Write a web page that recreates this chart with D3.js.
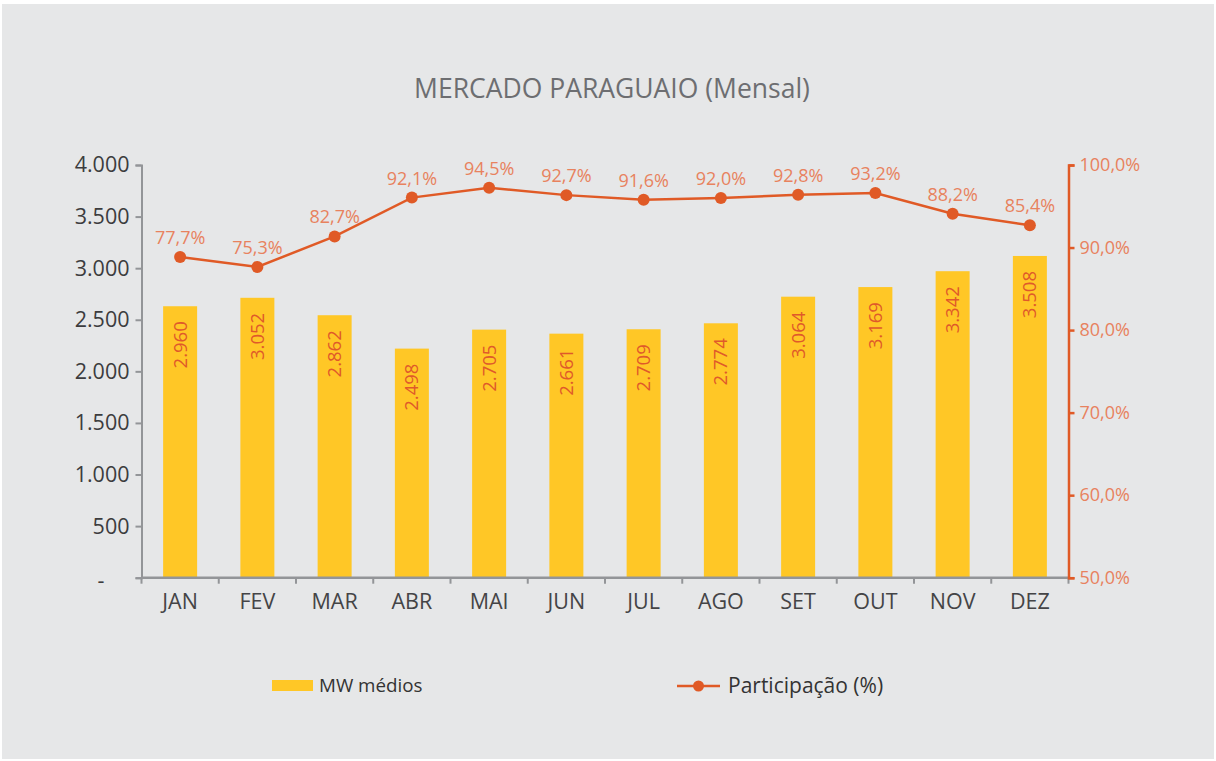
<!DOCTYPE html>
<html>
<head>
<meta charset="utf-8">
<script src="https://cdn.jsdelivr.net/npm/d3@7"></script>
<style>
    body { margin: 0; background: #ffffff; }
    svg { display: block; font-family: "Open Sans", "Noto Sans", sans-serif; }
</style>
</head>
<body>
<svg id="chart" width="1216" height="761"></svg>
<script>
const months = ['JAN', 'FEV', 'MAR', 'ABR', 'MAI', 'JUN', 'JUL', 'AGO', 'SET', 'OUT', 'NOV', 'DEZ'];
const mwMedios = [2960, 3052, 2862, 2498, 2705, 2661, 2709, 2774, 3064, 3169, 3342, 3508];
const participacao = [77.7, 75.3, 82.7, 92.1, 94.5, 92.7, 91.6, 92.0, 92.8, 93.2, 88.2, 85.4];
const leftTicks = [0, 500, 1000, 1500, 2000, 2500, 3000, 3500, 4000];
const rightTicks = [50, 60, 70, 80, 90, 100];

const svg = d3.select('#chart');

// gray panel
svg.append('rect')
    .attr('x', 2).attr('y', 4)
    .attr('width', 1212).attr('height', 755)
    .attr('fill', '#e6e7e8');

svg.append('text')
    .attr('x', 612).attr('y', 98)
    .attr('text-anchor', 'middle')
    .attr('font-size', 26.5)
    .attr('fill', '#6d6e71')
    .text('MERCADO PARAGUAIO (Mensal)');

const x0 = 141.5, x1 = 1068.5, yTop = 165, yBot = 577.7;

const scalex = d3.scaleBand()
    .domain(months)
    .range([x0, x1])
    .paddingInner(0.56)
    .paddingOuter(0.28);

// bars are drawn on a 0-4500 scale, the axis is labelled 0-4000 (as in the original)
const scaleBar = d3.scaleLinear().domain([0, 4500]).range([yBot, yTop]);
const scaleLeft = d3.scaleLinear().domain([0, 4000]).range([yBot, yTop]);
// line is drawn on 0-100, axis labelled 50-100
const scaleLine = d3.scaleLinear().domain([0, 100]).range([yBot, yTop]);
const scaleRight = d3.scaleLinear().domain([50, 100]).range([yBot, yTop]);

const fmtInt = d3.formatLocale({decimal: ',', thousands: '.', grouping: [3], currency: ['', '']}).format(',d');
const fmtPct = d => d.toFixed(1).replace('.', ',') + '%';

// bars
const bars = svg.append('g');
bars.selectAll('rect')
    .data(mwMedios)
    .enter()
    .append('rect')
    .attr('x', (d, i) => scalex(months[i]))
    .attr('y', d => scaleBar(d))
    .attr('width', scalex.bandwidth())
    .attr('height', d => yBot - scaleBar(d))
    .attr('fill', '#ffc726');

bars.selectAll('text')
    .data(mwMedios)
    .enter()
    .append('text')
    .attr('transform', (d, i) => 'translate(' + (scalex(months[i]) + scalex.bandwidth() / 2 + 6.5) + ',' + (scaleBar(d) + 15) + ') rotate(-90)')
    .attr('text-anchor', 'end')
    .attr('font-size', 18.5)
    .attr('fill', '#e0592a')
    .text(d => fmtInt(d));

// left axis
const axL = svg.append('g')
    .attr('transform', 'translate(' + x0 + ',0)')
    .call(d3.axisLeft(scaleLeft).tickValues(leftTicks).tickSize(6).tickPadding(6)
        .tickFormat(d => d === 0 ? '-' : fmtInt(d)));
axL.attr('font-family', null).attr('font-size', null);
axL.select('.domain').attr('stroke', '#939598').attr('stroke-width', 2);
axL.selectAll('.tick line').attr('stroke', '#939598').attr('stroke-width', 2);
axL.selectAll('.tick text').attr('font-size', 21.5).attr('fill', '#3c3c3e');
// the zero label is a dash sitting further left
axL.selectAll('.tick text').filter(d => d === 0).attr('dx', -25).attr('dy', '0.45em');

// bottom axis
const axB = svg.append('g')
    .attr('transform', 'translate(0,' + yBot + ')');
axB.append('line')
    .attr('x1', x0).attr('x2', x1)
    .attr('stroke', '#939598').attr('stroke-width', 2.5);
axB.selectAll('.sep')
    .data(d3.range(months.length + 1))
    .enter()
    .append('line')
    .attr('x1', i => x0 + i * scalex.step())
    .attr('x2', i => x0 + i * scalex.step())
    .attr('y1', 0).attr('y2', 6)
    .attr('stroke', '#939598').attr('stroke-width', 2);
axB.selectAll('.lbl')
    .data(months)
    .enter()
    .append('text')
    .attr('x', d => scalex(d) + scalex.bandwidth() / 2)
    .attr('y', 31)
    .attr('text-anchor', 'middle')
    .attr('font-size', 21.5)
    .attr('fill', '#444446')
    .text(d => d);

// right axis
const axR = svg.append('g')
    .attr('transform', 'translate(' + x1 + ',0)')
    .call(d3.axisRight(scaleRight).tickValues(rightTicks).tickSize(6).tickPadding(5)
        .tickFormat(fmtPct));
axR.attr('font-family', null).attr('font-size', null);
axR.select('.domain').attr('stroke', '#e05a26').attr('stroke-width', 2.5);
axR.selectAll('.tick line').attr('stroke', '#e05a26').attr('stroke-width', 2.5);
axR.selectAll('.tick text').attr('font-size', 18).attr('fill', '#e8825e');

// line
const cx = (d, i) => scalex(months[i]) + scalex.bandwidth() / 2;
svg.append('path')
    .datum(participacao)
    .attr('fill', 'none')
    .attr('stroke', '#e05a26')
    .attr('stroke-width', 2.5)
    .attr('d', d3.line().x(cx).y(d => scaleLine(d)));

svg.append('g').selectAll('circle')
    .data(participacao)
    .enter()
    .append('circle')
    .attr('cx', cx)
    .attr('cy', d => scaleLine(d))
    .attr('r', 6)
    .attr('fill', '#e05a26');

svg.append('g').selectAll('text')
    .data(participacao)
    .enter()
    .append('text')
    .attr('x', cx)
    .attr('y', d => scaleLine(d) - 13)
    .attr('text-anchor', 'middle')
    .attr('font-size', 18)
    .attr('fill', '#e8825e')
    .text(fmtPct);

// legend
const lg = svg.append('g');
lg.append('rect')
    .attr('x', 272).attr('y', 680)
    .attr('width', 41).attr('height', 11)
    .attr('fill', '#ffc726');
lg.append('text')
    .attr('x', 319).attr('y', 692)
    .attr('font-size', 18.8)
    .attr('fill', '#333333')
    .text('MW médios');
lg.append('line')
    .attr('x1', 677).attr('x2', 720)
    .attr('y1', 686).attr('y2', 686)
    .attr('stroke', '#e05a26').attr('stroke-width', 2.5);
lg.append('circle')
    .attr('cx', 698.5).attr('cy', 686).attr('r', 5.5)
    .attr('fill', '#e05a26');
lg.append('text')
    .attr('x', 728).attr('y', 693)
    .attr('font-size', 21)
    .attr('fill', '#333333')
    .text('Participação (%)');
</script>
</body>
</html>
